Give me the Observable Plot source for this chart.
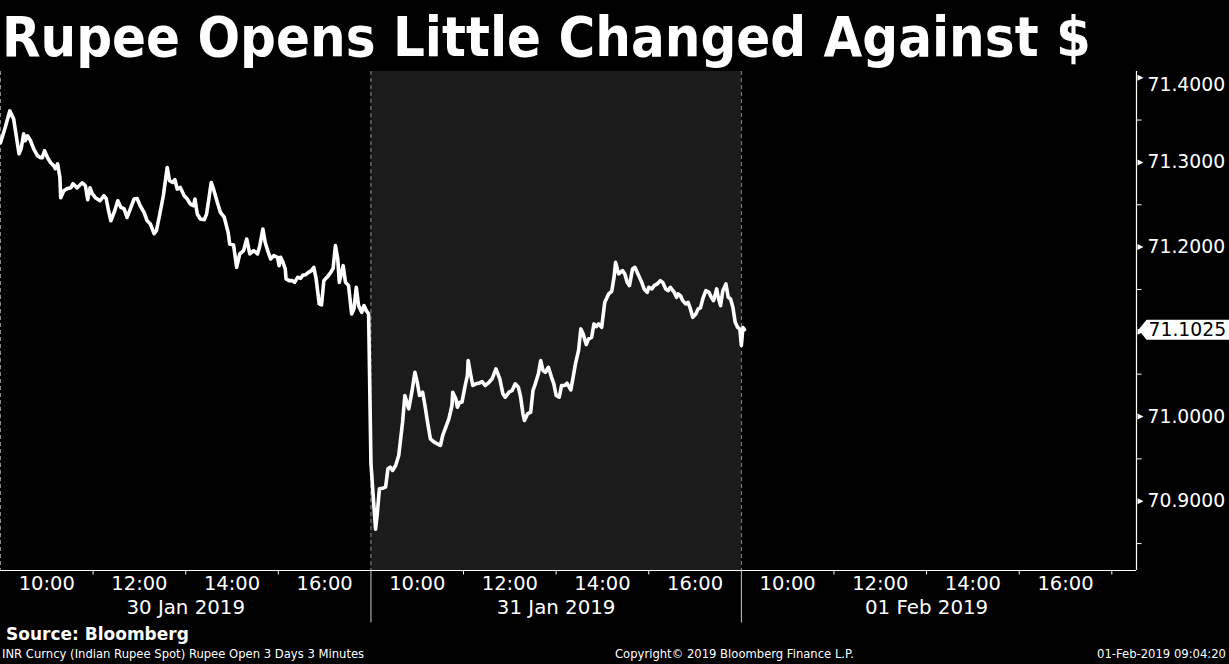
<!DOCTYPE html>
<html><head><meta charset="utf-8">
<script src="https://cdn.jsdelivr.net/npm/d3@7"></script>
<script src="https://cdn.jsdelivr.net/npm/@observablehq/plot@0.6"></script>
<style>
html,body{margin:0;padding:0;background:#000;}
#wrap{position:relative;width:1229px;height:664px;overflow:hidden;background:#000;color:#fff;font-family:"DejaVu Sans",sans-serif;}
#title{position:absolute;left:2px;top:9px;font-family:"DejaVu Sans Condensed","DejaVu Sans",sans-serif;font-stretch:condensed;font-weight:bold;font-size:55.7px;line-height:56px;white-space:nowrap;}
#chart{position:absolute;left:0;top:68px;}
.foot{position:absolute;white-space:nowrap;}
#source{left:6px;top:626px;font-weight:bold;font-size:17px;line-height:17px;}
#desc{left:2px;top:649px;font-size:11.6px;line-height:11.6px;}
#copy{left:615px;top:649px;font-size:11.6px;line-height:11.6px;}
#stamp{right:3px;top:649px;font-size:11.6px;line-height:11.6px;}
</style></head>
<body>
<div id="wrap">
  <div id="title">Rupee Opens Little Changed Against $</div>
  <div id="chart"></div>
  <div class="foot" id="source">Source: Bloomberg</div>
  <div class="foot" id="desc">INR Curncy (Indian Rupee Spot) Rupee Open 3 Days 3 Minutes</div>
  <div class="foot" id="copy">Copyright© 2019 Bloomberg Finance L.P.</div>
  <div class="foot" id="stamp">01-Feb-2019 09:04:20</div>
</div>
<script>
// ---- data ----
const dayLabels = ["30 Jan 2019", "31 Jan 2019", "01 Feb 2019"];
const hourLabels = ["10:00", "12:00", "14:00", "16:00"];
const tickHours = ["11:00", "13:00", "15:00", "17:00"];
const yMajorTicks = [70.9, 71.0, 71.1, 71.2, 71.3, 71.4];
const yMinorTicks = [70.85, 70.95, 71.05, 71.15, 71.25, 71.35];
const lastPrice = 71.1025;

const jan30Times = ["09:00","09:06","09:12","09:17","09:22","09:24","09:27","09:30","09:32","09:35","09:39","09:43","09:48","09:52","09:54","09:57",
"10:01","10:05","10:09","10:11","10:14","10:17","10:18","10:22","10:26","10:31","10:34","10:39","10:42","10:46","10:50","10:53","10:56","10:59",
"11:03","11:09","11:14","11:17","11:20","11:23","11:28","11:32","11:36","11:40","11:44","11:49","11:53","11:57",
"12:01","12:06","12:10","12:14","12:19","12:22","12:26","12:31","12:36","12:39","12:43","12:46","12:49","12:53","12:58",
"13:02","13:06","13:10","13:12","13:15","13:19","13:24","13:27","13:30","13:33","13:36","13:41","13:45","13:50","13:55","13:57",
"14:02","14:06","14:10","14:15","14:19","14:23","14:28","14:33","14:36","14:40","14:43","14:47","14:50","14:54","14:59",
"15:01","15:03","15:06","15:09","15:10","15:14","15:18","15:21","15:25","15:29","15:32","15:35","15:39","15:43","15:46","15:49","15:53","15:56","15:59",
"16:03","16:08","16:11","16:14","16:17","16:19","16:24","16:27","16:31","16:35","16:38","16:41","16:44","16:48","16:51","16:54","16:57"];
const jan30Values = [71.3231,71.3408,71.3608,71.3514,71.3219,71.3101,71.3172,71.3337,71.3255,71.3314,71.3255,71.3160,71.3078,71.3054,71.3054,71.3137,
71.3054,71.2995,71.2960,71.2925,71.2983,71.2818,71.2583,71.2665,71.2689,71.2700,71.2748,71.2700,71.2724,71.2759,71.2724,71.2559,71.2700,71.2630,
71.2583,71.2547,71.2606,71.2571,71.2429,71.2311,71.2429,71.2547,71.2468,71.2453,71.2350,71.2468,71.2567,71.2574,
71.2488,71.2409,71.2311,71.2276,71.2158,71.2193,71.2370,71.2606,71.2940,71.2783,71.2763,71.2795,71.2685,71.2704,71.2606,
71.2567,71.2508,71.2488,71.2567,71.2390,71.2331,71.2323,71.2390,71.2567,71.2763,71.2685,71.2527,71.2409,71.2350,71.2173,71.2037,
71.2025,71.1761,71.1919,71.1958,71.2096,71.1919,71.1958,71.1919,71.2017,71.2213,71.2055,71.1937,71.1860,71.1899,71.1879,
71.1781,71.1879,71.1820,71.1742,71.1624,71.1604,71.1604,71.1584,71.1643,71.1631,71.1671,71.1671,71.1702,71.1722,71.1761,71.1624,71.1329,71.1317,71.1604,
71.1643,71.1702,71.1749,71.2017,71.1860,71.1584,71.1781,71.1584,71.1545,71.1211,71.1270,71.1525,71.1309,71.1230,71.1309,71.1250,71.1211];

const jan31Times = ["09:00","09:03","09:06","09:08","09:11","09:15","09:19","09:22","09:25","09:28","09:32","09:36","09:41","09:44","09:47","09:49","09:53","09:57",
"10:00","10:03","10:07","10:10","10:13","10:17","10:22","10:26","10:30","10:33","10:37","10:41","10:45","10:46","10:50","10:52","10:55","10:58",
"11:00","11:03","11:05","11:06","11:09","11:12","11:16","11:21","11:24","11:28","11:33","11:37","11:42","11:47","11:51","11:54","11:59",
"12:03","12:07","12:11","12:14","12:17","12:19","12:23","12:27","12:30","12:33","12:37","12:40","12:43","12:46","12:50","12:54","12:57",
"13:00","13:04","13:07","13:11","13:14","13:19","13:22","13:25","13:29","13:32","13:35","13:39","13:42","13:46","13:49","13:52","13:55","13:59",
"14:03","14:08","14:12","14:15","14:17","14:21","14:26","14:29","14:32","14:35","14:39","14:42","14:45","14:50","14:54","14:58",
"15:00","15:04","15:07","15:11","15:15","15:18","15:22","15:25","15:28","15:33","15:36","15:38","15:41","15:44","15:48","15:51","15:54","15:57",
"16:01","16:04","16:07","16:10","16:14","16:18","16:21","16:24","16:28","16:30","16:33","16:36","16:40","16:43","16:46","16:49","16:52","16:55","16:58"];
const jan31Values = [70.9450,70.9050,70.8670,70.8833,70.9147,70.9154,70.9166,70.9383,70.9402,70.9363,70.9422,70.9540,70.9933,71.0248,71.0150,71.0091,71.0287,71.0522,
71.0404,71.0248,71.0287,71.0130,70.9953,70.9737,70.9697,70.9678,70.9658,70.9776,70.9874,70.9973,71.0130,71.0287,71.0209,71.0110,71.0169,71.0169,
71.0268,71.0404,71.0483,71.0660,71.0504,71.0366,71.0386,71.0397,71.0413,71.0366,71.0404,71.0445,71.0563,71.0445,71.0268,71.0228,71.0287,
71.0307,71.0386,71.0346,71.0228,71.0032,70.9953,71.0032,71.0051,71.0307,71.0386,71.0504,71.0660,71.0542,71.0522,71.0581,71.0463,71.0386,
71.0248,71.0228,71.0366,71.0366,71.0393,71.0315,71.0463,71.0621,71.0778,71.1034,71.0975,71.0849,71.0916,71.0935,71.1093,71.1061,71.1093,71.1053,
71.1348,71.1447,71.1478,71.1643,71.1820,71.1683,71.1722,71.1683,71.1584,71.1545,71.1742,71.1761,71.1702,71.1604,71.1506,71.1466,
71.1525,71.1506,71.1545,71.1565,71.1604,71.1584,71.1506,71.1486,71.1525,71.1466,71.1407,71.1447,71.1427,71.1368,71.1329,71.1348,71.1270,71.1171,
71.1211,71.1270,71.1282,71.1388,71.1486,71.1466,71.1407,71.1368,71.1506,71.1407,71.1309,71.1486,71.1565,71.1407,71.1388,71.1289,71.1112,71.1053,71.1034];

const feb1Times = ["09:00","09:02","09:04"];
const feb1Values = [71.0840,71.1050,71.1025];

// ---- build ----
const sessionMinutes = 480; // 09:00-17:00
const toT = (day, s) => { const [h, m] = s.split(":").map(Number); return day * sessionMinutes + (h - 9) * 60 + m; };
const series = [[jan30Times, jan30Values], [jan31Times, jan31Values], [feb1Times, feb1Values]];
const data = [];
series.forEach(([times, values], d) => times.forEach((s, i) => data.push({t: toT(d, s), v: values[i]})));

const dayIdx = dayLabels.map((_, i) => i);
const timeLabelData = dayIdx.flatMap(d => hourLabels.map(h => ({t: toT(d, h), label: h})));
const tickData = dayIdx.flatMap(d => tickHours.map(h => toT(d, h))).filter(t => t % sessionMinutes !== 0 || t === 3 * sessionMinutes);
const dayStarts = dayIdx.map(d => d * sessionMinutes);
const separators = dayStarts.filter(t => t > 0);
const dateData = dayIdx.map(d => ({t: d * sessionMinutes + sessionMinutes / 2, label: dayLabels[d]}));
const xMax = 1472, yMin = 70.8182, yMax = 71.4073;

const font = "DejaVu Sans";
// custom glyphs for axis decorations
const tagSymbol = {draw(ctx) { ctx.moveTo(2, 0); ctx.lineTo(10, -10); ctx.lineTo(95, -10); ctx.lineTo(95, 10); ctx.lineTo(10, 10); ctx.closePath(); }};
const hTick = {draw(ctx) { ctx.moveTo(0, 0); ctx.lineTo(5, 0); }};
const rightTri = {draw(ctx) { ctx.moveTo(1, -3); ctx.lineTo(7, 0); ctx.lineTo(1, 3); ctx.closePath(); }};
const vTick = len => ({draw(ctx) { ctx.moveTo(0, 0); ctx.lineTo(0, len); }});

const chart = Plot.plot({
  width: 1229, height: 556,
  marginLeft: 0, marginRight: 93, marginTop: 3, marginBottom: 54,
  style: {background: "black", color: "white", fontFamily: font, fontSize: "18.5px", overflow: "visible"},
  x: {domain: [0, xMax], axis: null},
  y: {domain: [yMin, yMax], axis: null},
  marks: [
    Plot.rect([dayStarts[1]], {x1: d => d, x2: d => d + sessionMinutes, fill: "#1b1b1b"}),
    Plot.ruleX(dayStarts, {stroke: "#8c8c8c", strokeDasharray: "4,3", strokeWidth: 1}),
    Plot.line(data, {x: "t", y: "v", stroke: "white", strokeWidth: 3.6, strokeLinejoin: "round", strokeLinecap: "round"}),
    Plot.ruleX([xMax], {stroke: "white", strokeWidth: 1.2}),
    Plot.ruleY([yMin], {stroke: "white", strokeWidth: 1.2}),
    Plot.dot(yMinorTicks, {y: d => d, frameAnchor: "right", symbol: hTick, stroke: "white", fill: "none", strokeWidth: 1}),
    Plot.dot(yMajorTicks, {y: d => d, frameAnchor: "right", symbol: rightTri, fill: "white", stroke: "none"}),
    Plot.text(yMajorTicks.filter(d => d < 71.35), {y: d => d, frameAnchor: "right", textAnchor: "start", dx: 11, text: d => d.toFixed(4), fill: "white", fontSize: 18.8, fontFamily: font}),
    Plot.text(yMajorTicks.filter(d => d > 71.35), {y: d => d, frameAnchor: "right", textAnchor: "start", dx: 11, dy: 7, text: d => d.toFixed(4), fill: "white", fontSize: 18.8, fontFamily: font}),
    Plot.dot([lastPrice], {y: d => d, frameAnchor: "right", symbol: tagSymbol, fill: "white", stroke: "none"}),
    Plot.text([lastPrice], {y: d => d, frameAnchor: "right", textAnchor: "start", dx: 12, text: d => d.toFixed(4), fill: "black", fontSize: 18.8, fontFamily: font}),
    Plot.dot(tickData, {x: d => d, frameAnchor: "bottom", symbol: vTick(4), stroke: "white", fill: "none", strokeWidth: 1}),
    Plot.dot(separators, {x: d => d, frameAnchor: "bottom", symbol: vTick(52), stroke: "#c8c8c8", fill: "none", strokeWidth: 1}),
    Plot.text(timeLabelData, {x: "t", text: "label", frameAnchor: "bottom", dy: 19, fill: "white", fontSize: 19.5, fontFamily: font}),
    Plot.text(dateData, {x: "t", text: "label", frameAnchor: "bottom", dy: 43, fill: "white", fontSize: 19.8, fontFamily: font})
  ]
});
document.getElementById("chart").appendChild(chart);
</script>
</body></html>
